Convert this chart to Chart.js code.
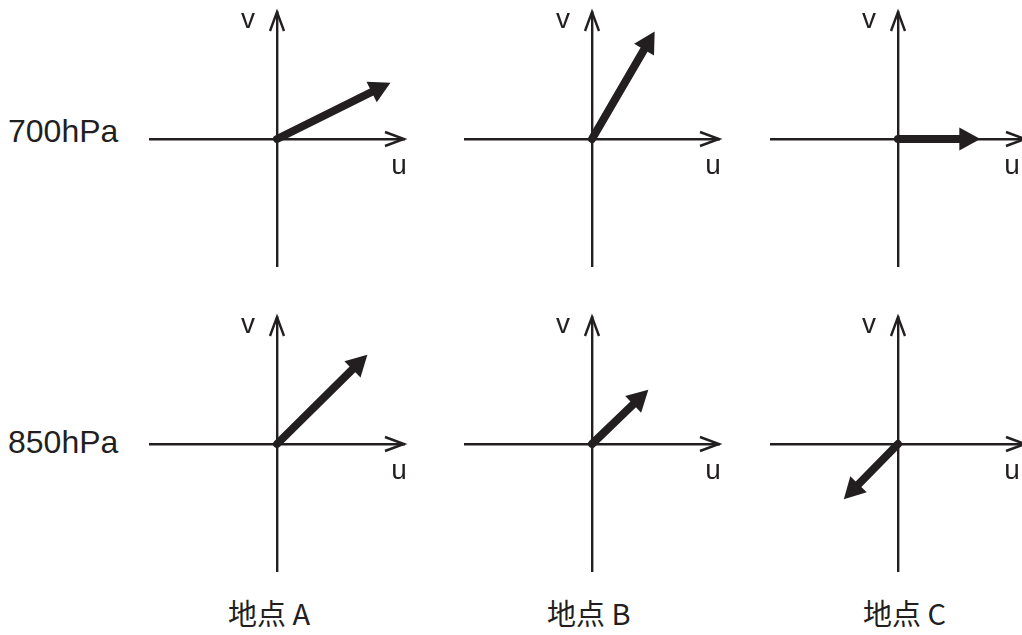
<!DOCTYPE html>
<html>
<head>
<meta charset="utf-8">
<script src="https://cdn.jsdelivr.net/npm/chart.js@4.4.0/dist/chart.umd.min.js"></script>
<style>
  html, body { margin: 0; padding: 0; background: #fff; overflow: hidden; }
  #stage { position: relative; width: 1022px; height: 635px; }
  #stage canvas { position: absolute; }
  .label { position: absolute; color: #231f20; white-space: nowrap; line-height: 1; }
  .level { font-size: 32px; font-family: 'Liberation Sans', Arial, sans-serif; }
  .site { font-size: 29px; font-family: 'Noto Sans CJK JP', sans-serif; }
</style>
</head>
<body>
<div id="stage"></div>
<script>
const levels = ['700hPa', '850hPa'];
const sites = ['地点 A', '地点 B', '地点 C'];
// wind components per site (same order as sites)
const u700 = [5.36, 2.96, 3.89];
const v700 = [2.66, 5.08, 0];
const u850 = [4.27, 2.66, -2.56];
const v850 = [4.22, 2.56, -2.61];
const AXIS_MAX = 6;

const INK = '#231f20';
const PAD = 14;
const HALF = 127;
const colX = [277, 592, 898];
const rowY = [139, 444];
const uShift = [-5, -6, -13];
const levelTop = [115, 426];
const siteLeft = [228, 547, 863];
const SITE_TOP = 598;

// axes through the origin, open arrowheads, u/v labels and the wind vector
const vectorPlugin = {
    id: 'vector',
    afterDraw(chart, args, opts) {
        const {ctx, scales: {x, y}} = chart;
        const pt = chart.data.datasets[0].data[1];
        const x0 = x.getPixelForValue(0);
        const y0 = y.getPixelForValue(0);
        const xEnd = x.getPixelForValue(AXIS_MAX);
        const yEnd = y.getPixelForValue(AXIS_MAX);

        ctx.save();
        ctx.strokeStyle = INK;
        ctx.fillStyle = INK;

        ctx.lineWidth = 2.4;
        ctx.beginPath();
        ctx.moveTo(xEnd - 19, y0 - 7);
        ctx.lineTo(xEnd, y0);
        ctx.lineTo(xEnd - 19, y0 + 7);
        ctx.moveTo(x0 - 7, yEnd + 19);
        ctx.lineTo(x0, yEnd);
        ctx.lineTo(x0 + 7, yEnd + 19);
        ctx.stroke();

        ctx.font = "28px 'Liberation Sans', Arial, sans-serif";
        ctx.textAlign = 'center';
        ctx.textBaseline = 'alphabetic';
        ctx.fillText('u', xEnd + opts.uShift, y0 + 35);
        ctx.fillText('v', x0 - 29, yEnd + 16);

        // the vector itself
        const tx = x.getPixelForValue(pt.x);
        const ty = y.getPixelForValue(pt.y);
        const ang = Math.atan2(ty - y0, tx - x0);
        const headL = 21, headW = 11.5;
        const bx = tx - headL * Math.cos(ang);
        const by = ty - headL * Math.sin(ang);
        ctx.lineWidth = 8;
        ctx.lineCap = 'round';
        ctx.beginPath();
        ctx.moveTo(x0, y0);
        ctx.lineTo(bx, by);
        ctx.stroke();
        ctx.beginPath();
        ctx.moveTo(tx, ty);
        ctx.lineTo(bx + headW * Math.sin(ang), by - headW * Math.cos(ang));
        ctx.lineTo(bx - headW * Math.sin(ang), by + headW * Math.cos(ang));
        ctx.closePath();
        ctx.fill();
        ctx.restore();
    }
};

function axis(position) {
    return {
        type: 'linear',
        min: -AXIS_MAX,
        max: AXIS_MAX,
        position: position,
        grid: {display: false, drawTicks: false},
        ticks: {display: false},
        border: {color: INK, width: 2.4}
    };
}

const stage = document.getElementById('stage');
const rows = [[u700, v700], [u850, v850]];

rows.forEach(([us, vs], r) => {
    let node = document.createElement('DIV');
    node.className = 'label level';
    node.textContent = levels[r];
    node.style.left = '8px';
    node.style.top = `${levelTop[r]}px`;
    stage.appendChild(node);

    sites.forEach((site, c) => {
        const canvas = document.createElement('canvas');
        canvas.width = 2 * (HALF + PAD);
        canvas.height = 2 * (HALF + PAD);
        canvas.style.left = `${colX[c] - HALF - PAD}px`;
        canvas.style.top = `${rowY[r] - HALF - PAD}px`;
        stage.appendChild(canvas);

        new Chart(canvas, {
            type: 'scatter',
            data: {
                datasets: [{
                    label: `${levels[r]} ${site}`,
                    data: [{x: 0, y: 0}, {x: us[c], y: vs[c]}],
                    showLine: false,
                    pointRadius: 0
                }]
            },
            options: {
                responsive: false,
                animation: false,
                events: [],
                layout: {padding: PAD},
                plugins: {
                    legend: {display: false},
                    tooltip: {enabled: false},
                    vector: {uShift: uShift[c]}
                },
                scales: {x: axis({y: 0}), y: axis({x: 0})}
            },
            plugins: [vectorPlugin]
        });
    });
});

sites.forEach((site, c) => {
    let node = document.createElement('DIV');
    node.className = 'label site';
    node.textContent = site;
    node.style.left = `${siteLeft[c]}px`;
    node.style.top = `${SITE_TOP}px`;
    stage.appendChild(node);
});
</script>
</body>
</html>
